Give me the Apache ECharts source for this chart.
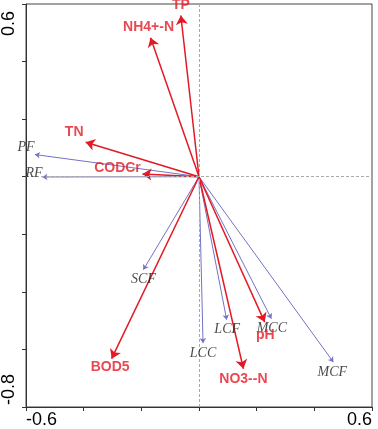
<!DOCTYPE html>
<html>
<head>
<meta charset="utf-8">
<script src="https://cdn.jsdelivr.net/npm/echarts@6/dist/echarts.min.js"></script>
<style>
	html, body {margin: 0; padding: 0; background: #fff;}
	#chart {width: 378px; height: 429px;}
</style>
</head>
<body>
<div id="chart"></div>
<script>
// environmental factors (red arrows)
var envNames = ['TP', 'NH4+-N', 'TN', 'CODCr', 'BOD5', 'NO3--N', 'pH'];
var envX = [-0.063, -0.168, -0.393, -0.196, -0.303, 0.154, 0.228];
var envY = [0.56, 0.483, 0.12, 0.009, -0.632, -0.667, -0.505];

// species / groups (blue arrows)
var spNames = ['PF', 'RF', 'SCF', 'LCC', 'LCF', 'MCC', 'MCF'];
var spX = [-0.569, -0.543, -0.193, 0.014, 0.096, 0.251, 0.466];
var spY = [0.077, -0.001, -0.323, -0.578, -0.497, -0.493, -0.644];

// tick labels shown on the axes
var xTickLabels = ['-0.6', '0.6'];
var yTickLabels = ['-0.8', '0.6'];

// label offsets in pixels from arrow tip
var envOffsets = [[0, -10], [-2, -10.5], [-11.5, -10], [-25, -5.5], [-1.5, 9], [0, 10], [0.5, 13]];
var spOffsets = [[-9, -7.5], [-8.5, -4], [0, 10], [0, 10], [0.5, 10], [0.5, 10], [-1, 10]];

var RED = '#e31a25';
var BLUE = '#7272c6';
var SANS = 'Liberation Sans, Arial, sans-serif';

function vectors(names, xs, ys) {
	return names.map(function(n, i) {
		return {name: n, coords: [[0, 0], [xs[i], ys[i]]]};
	});
}
function tips(names, xs, ys, offs) {
	return names.map(function(n, i) {
		return {name: n, value: [xs[i], ys[i]], label: {offset: offs[i]}};
	});
}
function fmtVal(v) {
	var s = (Math.round(v * 10) / 10).toFixed(1);
	return s === '-0.0' ? '0.0' : s;
}
function xFmt(v) {
	var s = fmtVal(v);
	return xTickLabels.indexOf(s) != -1 ? s : '';
}
function yFmt(v) {
	var s = fmtVal(v);
	if (s === yTickLabels[0]) return '{lo|' + s + '}';
	if (s === yTickLabels[yTickLabels.length - 1]) return '{hi|' + s + '}';
	return '';
}

var chart = echarts.init(document.getElementById('chart'));
chart.setOption({
	animation: false,
	grid: {
		left: 26, top: 4, right: 6, bottom: 22,
		show: true, borderColor: '#444', borderWidth: 1,
		outerBoundsMode: 'none'
	},
	xAxis: {
		type: 'value', min: -0.6, max: 0.6, interval: 0.2,
		splitLine: {show: false},
		axisLine: {onZero: false, lineStyle: {color: '#333', width: 1}},
		axisTick: {length: 4, lineStyle: {color: '#333'}},
		axisLabel: {
			formatter: xFmt, fontSize: 18, color: '#000',
			fontFamily: SANS, margin: 4,
			alignMinLabel: 'left', alignMaxLabel: 'right'
		}
	},
	yAxis: {
		type: 'value', min: -0.8, max: 0.6, interval: 0.2,
		splitLine: {show: false},
		axisLine: {onZero: false, lineStyle: {color: '#333', width: 1}},
		axisTick: {length: 4, lineStyle: {color: '#333'}},
		axisLabel: {
			formatter: yFmt, fontSize: 18, color: '#000', rotate: 90,
			fontFamily: SANS, margin: 8,
			alignMinLabel: 'left', alignMaxLabel: 'right',
			rich: {
				hi: {fontSize: 18, fontFamily: SANS, color: '#000', padding: [0, 7, 0, 0]},
				lo: {fontSize: 18, fontFamily: SANS, color: '#000', padding: [0, 0, 0, 2]}
			}
		}
	},
	series: [
		{
			type: 'line', data: [], silent: true,
			markLine: {
				silent: true, symbol: 'none', label: {show: false},
				lineStyle: {color: '#aaa', type: [3, 2], width: 1},
				data: [{xAxis: 0}, {yAxis: 0}]
			}
		},
		{
			type: 'lines', coordinateSystem: 'cartesian2d', z: 3,
			symbol: ['none', 'arrow'], symbolSize: 5,
			lineStyle: {color: BLUE, width: 1, opacity: 1},
			itemStyle: {color: '#2a2a9a'},
			data: vectors(spNames, spX, spY)
		},
		{
			type: 'lines', coordinateSystem: 'cartesian2d', z: 4,
			symbol: ['none', 'arrow'], symbolSize: 9,
			lineStyle: {color: RED, width: 1.5, opacity: 1},
			data: vectors(envNames, envX, envY)
		},
		{
			type: 'scatter', symbolSize: 0, silent: true, z: 5,
			label: {
				show: true, position: 'inside', formatter: '{b}',
				color: '#1a1a1a', fontSize: 14, fontStyle: 'italic',
				fontFamily: 'Liberation Serif, Times New Roman, serif'
			},
			data: tips(spNames, spX, spY, spOffsets)
		},
		{
			type: 'scatter', symbolSize: 0, silent: true, z: 6,
			label: {
				show: true, position: 'inside', formatter: '{b}',
				color: RED, fontSize: 14, fontWeight: 'bold',
				fontFamily: SANS
			},
			data: tips(envNames, envX, envY, envOffsets)
		}
	]
});
</script>
</body>
</html>
